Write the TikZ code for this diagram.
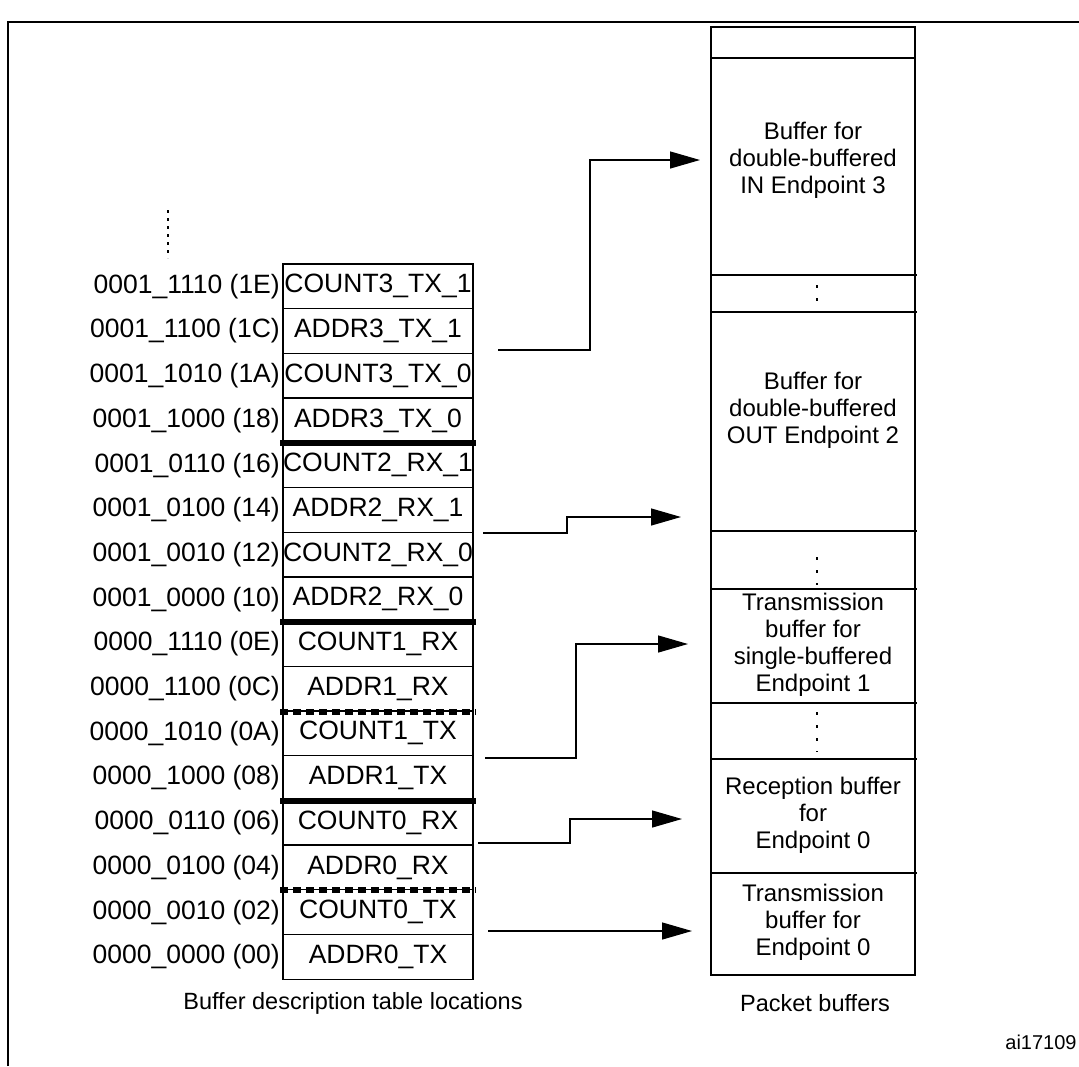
\documentclass[tikz,border=0pt]{standalone}
\usepackage{fontspec}
\setmainfont{Liberation Sans}
\usetikzlibrary{arrows.meta}
\begin{document}
\begin{tikzpicture}[x=1pt,y=-1pt,
  cell/.style={draw,line width=1.3pt,minimum width=190pt,minimum height=44.7pt,inner sep=0pt,font=\fontsize{26.5}{30}\selectfont},
  addr/.style={anchor=east,inner sep=0pt,font=\fontsize{26.5}{30}\selectfont},
  pbox/.style={align=center,font=\fontsize{24}{27}\selectfont},
  conn/.style={line width=1.3pt,-{Triangle[length=30pt,width=17pt]}},
  sep/.style={line width=6pt},
  dsep/.style={line width=6pt,dash pattern=on 8pt off 5pt},
  thin/.style={line width=1.3pt}]
\useasboundingbox (0,0) rectangle (1079,1066);
\draw[thin] (8,1066) -- (8,22) -- (1079,22);
% table
\foreach \lab/\ad [count=\i from 0] in {COUNT3\_TX\_1/0001\_1110 (1E),ADDR3\_TX\_1/0001\_1100 (1C),COUNT3\_TX\_0/0001\_1010 (1A),ADDR3\_TX\_0/0001\_1000 (18),COUNT2\_RX\_1/0001\_0110 (16),ADDR2\_RX\_1/0001\_0100 (14),COUNT2\_RX\_0/0001\_0010 (12),ADDR2\_RX\_0/0001\_0000 (10),COUNT1\_RX/0000\_1110 (0E),ADDR1\_RX/0000\_1100 (0C),COUNT1\_TX/0000\_1010 (0A),ADDR1\_TX/0000\_1000 (08),COUNT0\_RX/0000\_0110 (06),ADDR0\_RX/0000\_0100 (04),COUNT0\_TX/0000\_0010 (02),ADDR0\_TX/0000\_0000 (00)}{
  \node[cell] (r\i) at (378,{264+44.7*(\i+0.5)}) {\lab};
  \node[addr] (a\i) at (280,{264+44.7*(\i+0.5)}) {\ad};
}
\draw[sep] ([xshift=-2pt]r3.south west) -- ([xshift=2pt]r3.south east);
\draw[sep] ([xshift=-2pt]r7.south west) -- ([xshift=2pt]r7.south east);
\draw[sep] ([xshift=-2pt]r11.south west) -- ([xshift=2pt]r11.south east);
\draw[dsep] ([xshift=-2pt]r9.south west) -- ([xshift=2pt]r9.south east);
\draw[dsep] ([xshift=-2pt]r13.south west) -- ([xshift=2pt]r13.south east);
\draw[thin,dash pattern=on 3pt off 5pt] (168,210) -- (168,258);
% packet buffers
\draw[thin] (711,27) rectangle (915,58);
\draw[thin] (711,58) rectangle (915,975);
\foreach \y in {275,312,531,589,703,759,873}{\draw[thin] (711,\y) -- (917,\y);}
\foreach \a/\b in {285/310,557/585,712/752}{\draw[thin,dash pattern=on 3pt off 10pt] (817,\a) -- (817,\b);}
\node[pbox] (b3) at (813,160) {Buffer for\\double-buffered\\IN Endpoint 3};
\node[pbox] (b2) at (813,410) {Buffer for\\double-buffered\\OUT Endpoint 2};
\node[pbox] (b1) at (813,645) {Transmission\\buffer for\\single-buffered\\Endpoint 1};
\node[pbox] (b0r) at (813,815) {Reception buffer\\for\\Endpoint 0};
\node[pbox] (b0t) at (813,922) {Transmission\\buffer for\\Endpoint 0};
% arrows
\coordinate (s1) at (498,350); \coordinate (t1) at (700,160);
\coordinate (s2) at (483,533); \coordinate (t2) at (681,517);
\coordinate (s3) at (485,758); \coordinate (t3) at (688,644);
\coordinate (s4) at (478,843); \coordinate (t4) at (682,819);
\coordinate (s5) at (488,931); \coordinate (t5) at (692,931);
\draw[conn] (s1) -| (590,160) -- (t1);
\draw[conn] (s2) -| (567,517) -- (t2);
\draw[conn] (s3) -| (576,644) -- (t3);
\draw[conn] (s4) -| (570,819) -- (t4);
\draw[conn] (s5) -- (t5);
\node[font=\fontsize{23.5}{26}\selectfont] (c1) at (353,1003) {Buffer description table locations};
\node[font=\fontsize{23.5}{26}\selectfont] (c2) at (815,1003) {Packet buffers};
\node[font=\fontsize{20}{22}\selectfont] (c3) at (1041,1042) {ai17109};
\end{tikzpicture}
\end{document}
